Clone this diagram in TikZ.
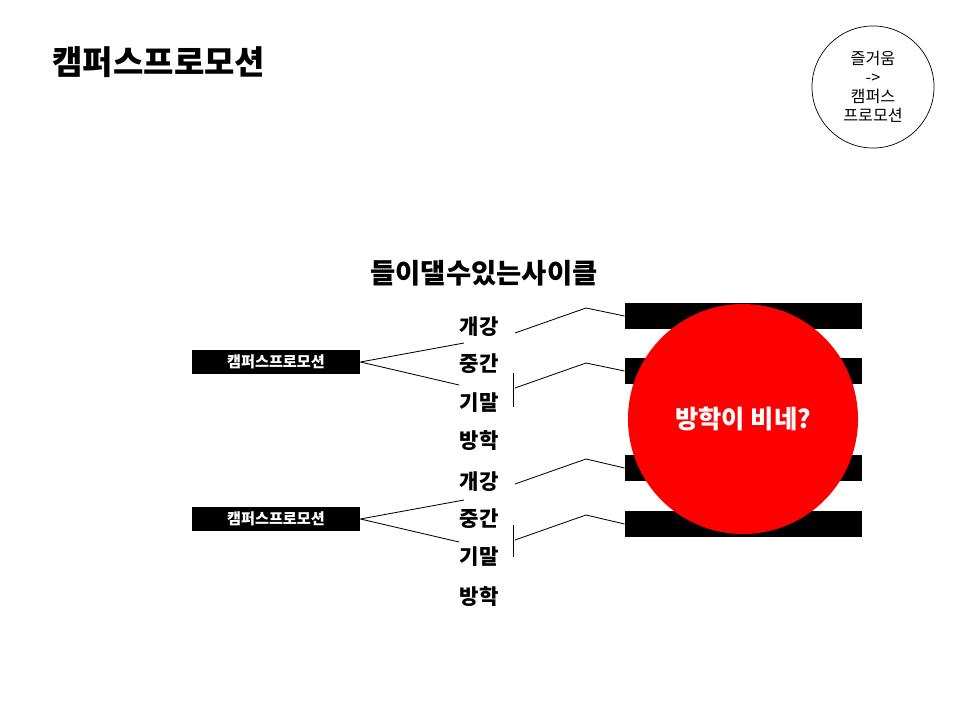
\documentclass[tikz,border=0pt]{standalone}
\usepackage{fontspec}
\setmainfont{Noto Sans CJK KR}
\usepackage{tikz}
\usetikzlibrary{positioning,calc}

\begin{document}
\begin{tikzpicture}[
  x=0.025cm, y=-0.025cm,
  line width=0.6pt,
  ttl/.style={font=\fontsize{23.5}{26}\selectfont\bfseries, anchor=west, inner sep=0pt},
  head/.style={font=\fontsize{19.5}{22}\selectfont\bfseries, inner sep=0pt},
  lbl/.style={font=\fontsize{15}{17}\selectfont\bfseries, inner sep=0pt},
  promo/.style={fill=black, text=white, minimum width=4.2cm, minimum height=0.6cm,
                inner sep=0pt, font=\fontsize{10.8}{12}\selectfont\bfseries},
  bar/.style={fill=black, minimum width=5.925cm, minimum height=0.65cm, inner sep=0pt},
  note/.style={circle, draw=black, line width=0.5pt, minimum size=3.05cm, align=center,
               font=\fontsize{11.5}{13.5}\selectfont},
  conn/.style={draw=black, line width=0.6pt}
]
\useasboundingbox (0,0) rectangle (960,720);
% ---------------- title and note
\node[ttl] (title) at (52,62) {캠퍼스프로모션};
\node[note] (memo) at (873,87) {즐거움\\ ->\\ 캠퍼스\\ 프로모션};
\node[head] (cyc) at (484,273) {들이댈수있는사이클};
% ---------------- cycle labels
\foreach \t/\y [count=\i] in {개강/327,중간/364,기말/403,방학/441,개강/482,중간/519,기말/557,방학/597}
  { \node[lbl] (l\i) at (479,\y) {\t}; }
% ---------------- promotion boxes
\node[promo] (p1) at (276,362) {캠퍼스프로모션};
\node[promo] (p2) at (276,519) {캠퍼스프로모션};
\coordinate (p1a) at (464,343);
\coordinate (p1b) at (459,385);
\coordinate (p2a) at (464,500);
\coordinate (p2b) at (459,542);
\draw[conn] (p1.east) -- (p1a);
\draw[conn] (p1.east) -- (p1b);
\draw[conn] (p2.east) -- (p2a);
\draw[conn] (p2.east) -- (p2b);
% brackets
\draw[conn] (513,373) coordinate (k1) -- (513,407);
\draw[conn] (513,525) coordinate (k2) -- (513,557);
% ---------------- bars
\node[bar] (b1) at (743.5,316) {};
\node[bar] (b2) at (743.5,371) {};
\node[bar] (b3) at (743.5,468) {};
\node[bar] (b4) at (743.5,524) {};
\coordinate (z1) at (515,333);
\coordinate (z2) at (515,388);
\coordinate (z3) at (515,484);
\coordinate (z4) at (515,540);
\foreach \i in {1,2,3,4} { \draw[conn] (z\i) -- ++(71,-25) -- (b\i.west); }
% ---------------- red circle
\node[circle, fill=red, minimum size=5.75cm, inner sep=0pt, text=white,
      font=\fontsize{18}{21}\selectfont\bfseries] (hol) at (743,419) {방학이 비네?};
\end{tikzpicture}
\end{document}
